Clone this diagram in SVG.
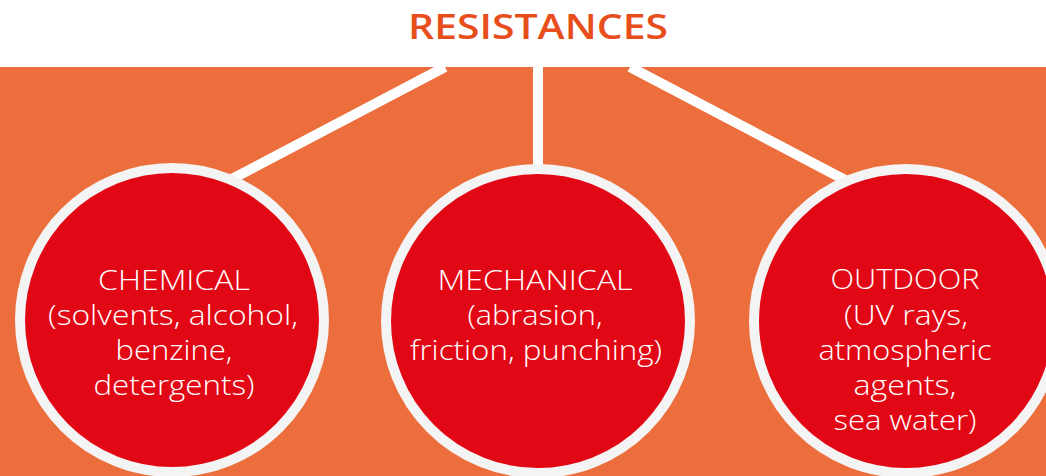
<svg xmlns="http://www.w3.org/2000/svg" width="1046" height="476" viewBox="0 0 1046 476">
<style>
.title{font-family:"Open Sans",Lato,"Liberation Sans",sans-serif;font-size:35px;font-weight:600;fill:#E84E1B;text-anchor:middle;}
.lbl{font-family:"Open Sans",Lato,"Liberation Sans",sans-serif;font-size:27px;font-weight:300;fill:#FFFFFF;text-anchor:middle;}
.conn{stroke:#FFFFFF;stroke-width:10;fill:none;}
.node{fill:#E20714;stroke:#F4F4F4;stroke-width:10;}
</style>
<rect x="0" y="0" width="1046" height="476" fill="#FFFFFF"/>
<rect x="0" y="67" width="1046" height="409" fill="#EC6E3C"/>
<text class="title" x="538" y="39" textLength="260" lengthAdjust="spacingAndGlyphs">RESISTANCES</text>
<g id="connectors">
<line class="conn" x1="445" y1="67" x2="230" y2="180"/>
<line class="conn" x1="538" y1="67" x2="538" y2="166"/>
<line class="conn" x1="630" y1="67" x2="845" y2="180"/>
</g>
<g id="chemical">
<circle class="node" cx="172" cy="320" r="152"/>
<text class="lbl" x="174" y="290" textLength="152" lengthAdjust="spacingAndGlyphs">CHEMICAL</text>
<text class="lbl" x="173" y="325" textLength="250" lengthAdjust="spacingAndGlyphs">(solvents, alcohol,</text>
<text class="lbl" x="174" y="360" textLength="117" lengthAdjust="spacingAndGlyphs">benzine,</text>
<text class="lbl" x="174" y="395" textLength="161" lengthAdjust="spacingAndGlyphs">detergents)</text>
</g>
<g id="mechanical">
<circle class="node" cx="538" cy="321" r="152"/>
<text class="lbl" x="535" y="290" textLength="195" lengthAdjust="spacingAndGlyphs">MECHANICAL</text>
<text class="lbl" x="535" y="325" textLength="135" lengthAdjust="spacingAndGlyphs">(abrasion,</text>
<text class="lbl" x="536" y="360" textLength="252" lengthAdjust="spacingAndGlyphs">friction, punching)</text>
</g>
<g id="outdoor">
<circle class="node" cx="906" cy="321" r="152"/>
<text class="lbl" x="905" y="289" textLength="149" lengthAdjust="spacingAndGlyphs">OUTDOOR</text>
<text class="lbl" x="906" y="325" textLength="124" lengthAdjust="spacingAndGlyphs">(UV rays,</text>
<text class="lbl" x="905" y="360" textLength="173" lengthAdjust="spacingAndGlyphs">atmospheric</text>
<text class="lbl" x="905" y="395" textLength="103" lengthAdjust="spacingAndGlyphs">agents,</text>
<text class="lbl" x="905" y="430" textLength="143" lengthAdjust="spacingAndGlyphs">sea water)</text>
</g>
</svg>
